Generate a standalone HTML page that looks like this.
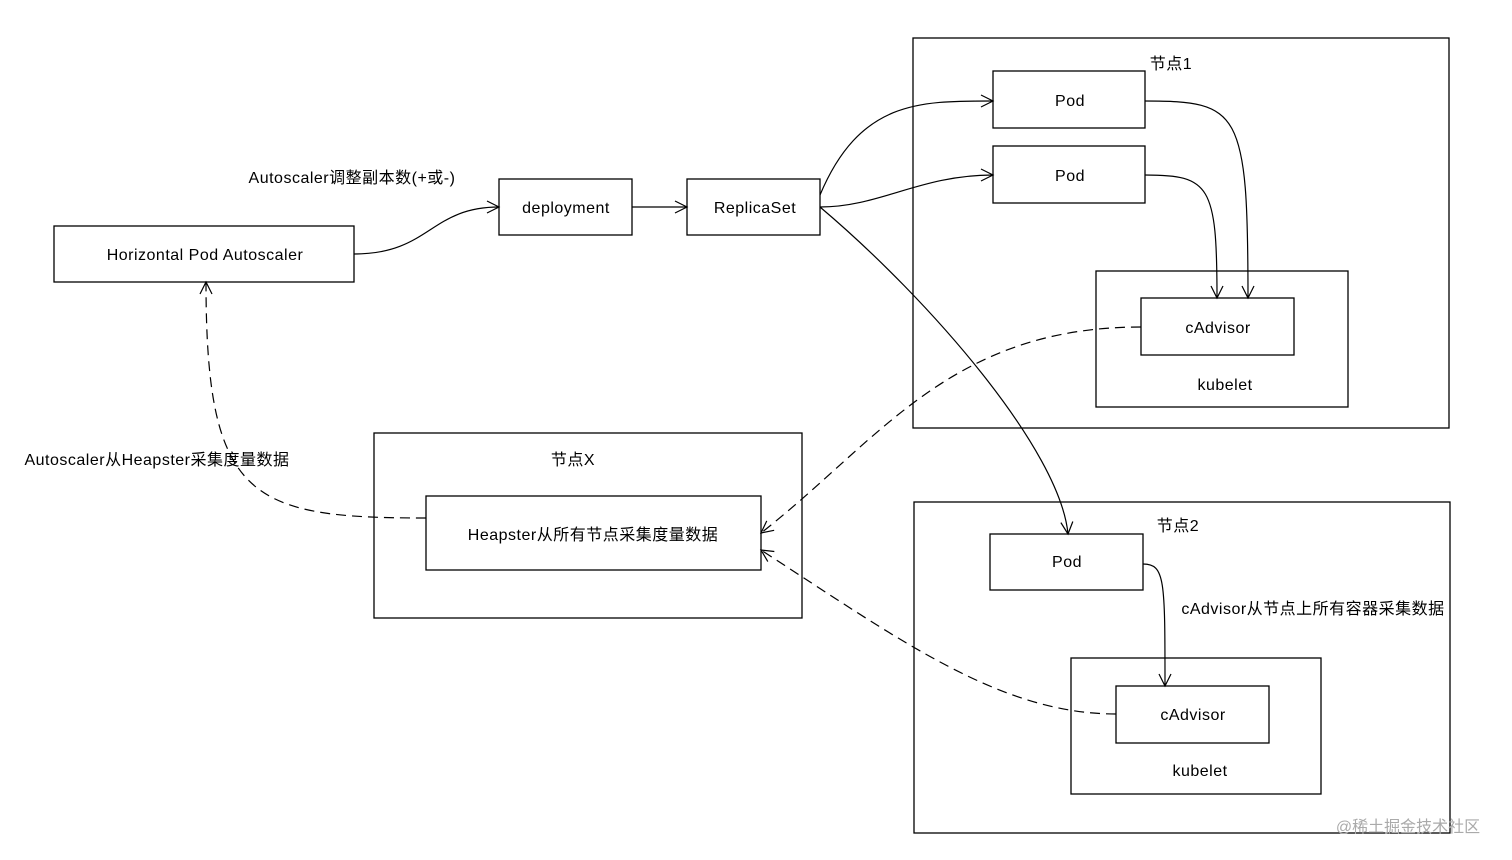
<!DOCTYPE html>
<html><head><meta charset="utf-8"><style>
html,body{margin:0;padding:0;background:#fff;}
svg{display:block;font-family:"Liberation Sans","Noto Sans CJK SC",sans-serif;}
</style></head><body>
<svg width="1512" height="860" viewBox="0 0 1512 860" xmlns="http://www.w3.org/2000/svg">
<defs>
<marker id="a" markerWidth="16" markerHeight="16" refX="14" refY="8" orient="auto" markerUnits="userSpaceOnUse">
<path d="M2,2 L14,8 L2,14" fill="none" stroke="#000" stroke-width="1.2"/>
</marker>
</defs>
<g fill="none" stroke="#000" stroke-width="1.3">
<rect x="54" y="226" width="300" height="56"/>
<rect x="499" y="179" width="133" height="56"/>
<rect x="687" y="179" width="133" height="56"/>
<rect x="913" y="38" width="536" height="390"/>
<rect x="993" y="71" width="152" height="57"/>
<rect x="993" y="146" width="152" height="57"/>
<rect x="1096" y="271" width="252" height="136"/>
<rect x="1141" y="298" width="153" height="57"/>
<rect x="374" y="433" width="428" height="185"/>
<rect x="426" y="496" width="335" height="74"/>
<rect x="914" y="502" width="536" height="331"/>
<rect x="990" y="534" width="153" height="56"/>
<rect x="1071" y="658" width="250" height="136"/>
<rect x="1116" y="686" width="153" height="57"/>
</g>
<g fill="none" stroke="#000" stroke-width="1.2">
<path d="M354,254 C430,254 430,207 499,207" marker-end="url(#a)"/>
<path d="M632,207 L687,207" marker-end="url(#a)"/>
<path d="M820,195 C860,100 920,101 993,101" marker-end="url(#a)"/>
<path d="M820,207 C880,207 920,175 993,175" marker-end="url(#a)"/>
<path d="M820,207 C930,300 1060,450 1068,534" marker-end="url(#a)"/>
<path d="M1145,101 C1240,101 1248,110 1248,298" marker-end="url(#a)"/>
<path d="M1145,175 C1210,175 1217,185 1217,298" marker-end="url(#a)"/>
<path d="M1143,564 C1165,564 1165,580 1165,686" marker-end="url(#a)"/>
</g>
<g fill="none" stroke="#000" stroke-width="1.2" stroke-dasharray="10,6">
<path d="M1141,327 C950,327 880,440 761,533" marker-end="url(#a)"/>
<path d="M1116,714 C1000,714 900,640 761,550" marker-end="url(#a)"/>
<path d="M426,518 C250,518 206,500 206,282" marker-end="url(#a)"/>
</g>
<g font-size="16" fill="#000" text-anchor="middle" letter-spacing="0.5">
<text x="205" y="260">Horizontal Pod Autoscaler</text>
<text x="566" y="213">deployment</text>
<text x="755" y="213">ReplicaSet</text>
<text x="1070" y="106">Pod</text>
<text x="1070" y="181">Pod</text>
<text x="1218" y="333">cAdvisor</text>
<text x="1225" y="390">kubelet</text>
<text x="1171" y="69">节点1</text>
<text x="573" y="465">节点X</text>
<text x="593" y="540">Heapster从所有节点采集度量数据</text>
<text x="1178" y="531">节点2</text>
<text x="1067" y="567">Pod</text>
<text x="1193" y="720">cAdvisor</text>
<text x="1200" y="776">kubelet</text>
<text x="352" y="183">Autoscaler调整副本数(+或-)</text>
<text x="157" y="465">Autoscaler从Heapster采集度量数据</text>
<text x="1313" y="614">cAdvisor从节点上所有容器采集数据</text>
</g>
<text x="1408" y="832" font-size="16" fill="#aaa" text-anchor="middle">@稀土掘金技术社区</text>
</svg>
</body></html>
